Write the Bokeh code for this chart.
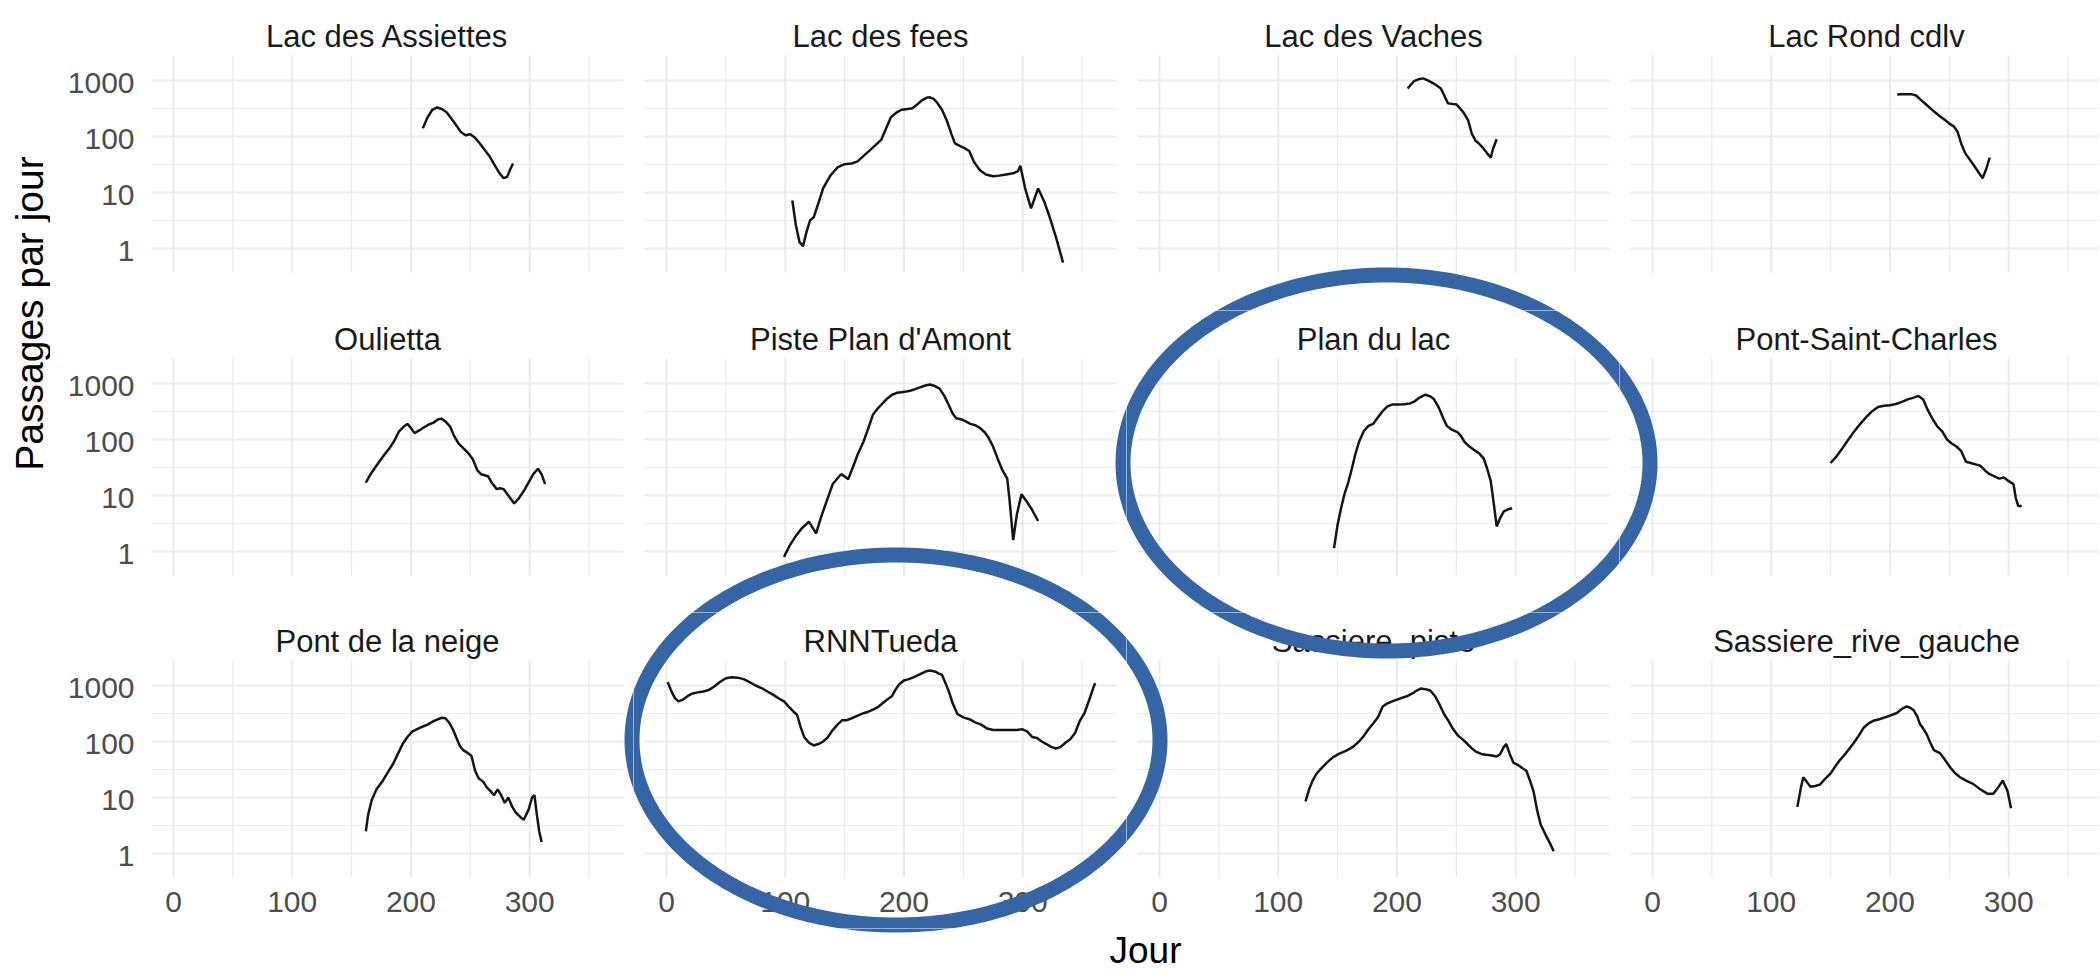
import math
from bokeh.plotting import figure
from bokeh.models import Range1d, LogScale, Label, PolyAnnotation
from bokeh.core.properties import value
from bokeh.layouts import row, column
from bokeh.embed import file_html
from bokeh.resources import INLINE

# ---------------- data ----------------
stations = ["Lac des Assiettes", "Lac des fees", "Lac des Vaches", "Lac Rond cdlv",
            "Oulietta", "Piste Plan d'Amont", "Plan du lac", "Pont-Saint-Charles",
            "Pont de la neige", "RNNTueda", "Sassiere_piste", "Sassiere_rive_gauche"]

x_ticks = [0, 100, 200, 300]
x_tick_labels = ["0", "100", "200", "300"]
x_minor = [50, 150, 250, 350]
y_ticks = [1, 10, 100, 1000]
y_tick_labels = ["1", "10", "100", "1000"]
y_minor = [10 ** 0.5, 10 ** 1.5, 10 ** 2.5]

assiettes_day = [210, 214, 218, 222, 226, 230, 234, 238, 242, 246, 250, 254, 258, 262, 266, 270, 274, 278, 281, 284, 286]
assiettes_val = [140, 220, 300, 330, 310, 270, 210, 160, 120, 105, 110, 95, 75, 58, 45, 32, 23, 18, 19, 27, 33]

fees_day = [106, 109, 112, 115, 118, 121, 124, 128, 132, 138, 144, 150, 156, 161, 166, 171, 176, 181, 185, 189,
            194, 198, 203, 207, 211, 215, 219, 222, 225, 228, 232, 236, 240, 243, 247, 251, 255, 259, 264, 269,
            275, 280, 286, 292, 296, 298, 302, 307, 313, 318, 323, 328, 334]
fees_val = [7.2, 2.6, 1.3, 1.1, 2.0, 3.2, 3.6, 6.5, 12, 20, 28, 32, 33, 36, 45, 56, 70, 88, 140, 220,
            270, 300, 310, 318, 370, 440, 490, 500, 470, 400, 300, 195, 110, 75, 68, 62, 55, 35, 25, 21,
            19.5, 20, 21, 22, 24, 30, 12, 5.2, 11.8, 7, 3.5, 1.6, 0.56]

vaches_day = [209, 214, 218, 222, 226, 231, 237, 243, 247, 250, 253, 256, 260, 263, 266, 269, 272, 276, 279, 281, 284]
vaches_val = [720, 960, 1050, 1090, 1000, 880, 720, 390, 380, 375, 320, 270, 193, 113, 85, 75, 64, 50, 42, 61, 89]

rond_day = [206, 210, 214, 218, 222, 226, 230, 234, 238, 242, 246, 250, 254, 257, 260, 263, 266, 270, 274, 278, 281, 284]
rond_val = [560, 570, 565, 570, 540, 450, 380, 320, 270, 230, 200, 170, 150, 120, 75, 52, 42, 32, 24, 18, 26, 42]

oulietta_day = [162, 166, 170, 174, 178, 182, 186, 190, 194, 197, 200, 203, 207, 211, 215, 219, 223, 226, 229, 233,
                236, 240, 244, 248, 252, 256, 259, 262, 265, 268, 272, 275, 278, 282, 287, 291, 295, 299, 303, 307,
                310, 313]
oulietta_val = [17, 24, 32, 42, 55, 70, 95, 140, 170, 190, 160, 130, 145, 165, 185, 200, 230, 235, 210, 170,
                120, 85, 70, 58, 45, 28, 24, 23, 22, 17, 13, 13.5, 13, 10, 7.2, 9, 12, 17, 24, 30,
                24, 16]

amont_day = [99, 104, 109, 114, 120, 126, 130, 135, 140, 147, 150, 153, 157, 161, 166, 170, 174, 178, 182, 186,
             190, 194, 198, 202, 206, 210, 214, 218, 222, 226, 230, 234, 238, 241, 244, 248, 252, 256, 260, 264,
             268, 271, 275, 279, 283, 287, 289, 292, 295, 299, 303, 308, 313]
amont_val = [0.8, 1.3, 1.9, 2.6, 3.4, 2.1, 4, 8, 16, 24, 22, 19.5, 32, 54, 92, 160, 280, 360, 440, 540,
             630, 680, 700, 720, 750, 800, 860, 920, 960, 900, 810, 600, 400, 290, 240, 230, 210, 190, 180, 160,
             135, 110, 75, 45, 28, 20, 8, 1.6, 4.5, 10.5, 8, 5.5, 3.5]

plan_lac_day = [147, 150, 153, 156, 159, 162, 165, 168, 172, 176, 180, 184, 188, 192, 196, 201, 206, 211, 215, 219,
                224, 228, 231, 235, 239, 242, 246, 251, 254, 257, 261, 265, 269, 273, 276, 279, 282, 284, 287, 290,
                294, 297]
plan_lac_val = [1.15, 3, 6, 11, 17, 30, 55, 90, 140, 175, 190, 250, 320, 390, 420, 420, 425, 440, 480, 560,
                630, 590, 530, 380, 240, 175, 150, 135, 115, 90, 75, 65, 57, 46, 30, 18, 6, 2.8, 4, 5.2,
                5.7, 5.9]

psc_day = [150, 155, 160, 165, 170, 175, 180, 185, 190, 195, 200, 205, 210, 215, 220, 224, 228, 232, 236, 240,
           244, 248, 252, 256, 260, 264, 268, 272, 276, 280, 284, 288, 292, 296, 300, 304, 306, 308, 311]
psc_val = [38, 50, 70, 100, 140, 190, 250, 320, 380, 400, 410, 430, 470, 520, 560, 600, 520, 330, 230, 170,
           140, 100, 85, 75, 62, 40, 38, 36, 34, 28, 24, 22, 20, 21, 18, 16, 9, 6.5, 6.5]

neige_day = [162, 164, 167, 171, 176, 180, 185, 189, 193, 197, 201, 206, 210, 214, 218, 222, 226, 229, 232, 235,
             238, 241, 244, 248, 251, 254, 257, 261, 264, 267, 270, 273, 276, 279, 282, 285, 288, 292, 295, 299,
             302, 304, 306, 308, 310]
neige_val = [2.5, 5, 9, 14, 19.5, 27, 40, 60, 90, 120, 150, 170, 185, 200, 225, 245, 265, 260, 220, 170,
             120, 85, 70, 62, 55, 30, 22, 19, 15, 13, 11, 14, 11, 8, 10, 7, 5.5, 4.5, 4, 6,
             10, 11, 5, 2.5, 1.6]

tueda_day = [1, 4, 7, 10, 14, 18, 22, 27, 31, 35, 40, 45, 50, 55, 60, 65, 70, 75, 80, 85,
             90, 95, 99, 103, 107, 110, 113, 116, 120, 124, 128, 132, 136, 140, 144, 148, 152, 156, 161, 166,
             170, 174, 178, 182, 186, 190, 193, 196, 200, 204, 208, 211, 215, 219, 222, 226, 229, 232, 235, 238,
             241, 245, 250, 255, 260, 265, 270, 275, 280, 285, 290, 295, 300, 304, 308, 312, 316, 320, 324, 328,
             332, 336, 340, 344, 348, 352, 356, 359, 361]
tueda_val = [1150, 800, 600, 520, 560, 650, 720, 760, 780, 820, 950, 1150, 1350, 1400, 1380, 1300, 1150, 1000, 900, 780,
             680, 580, 520, 420, 340, 300, 180, 120, 95, 85, 90, 100, 120, 160, 200, 240, 240, 260, 290, 320,
             340, 370, 410, 480, 560, 650, 850, 1050, 1230, 1300, 1400, 1500, 1650, 1800, 1850, 1780, 1650, 1550, 1100, 760,
             480, 310, 270, 250, 220, 200, 170, 160, 160, 160, 160, 160, 165, 150, 120, 115, 100, 90, 80, 75,
             80, 95, 110, 140, 230, 320, 550, 850, 1100]

spiste_day = [123, 126, 129, 132, 135, 140, 146, 151, 157, 163, 168, 172, 176, 180, 184, 188, 192, 196, 200, 205,
              209, 213, 217, 220, 224, 228, 232, 236, 240, 243, 247, 251, 255, 259, 263, 267, 271, 275, 280, 284,
              287, 290, 292, 295, 298, 302, 306, 309, 312, 315, 318, 321, 325, 329, 332]
spiste_val = [8.5, 14, 20, 26, 31, 40, 52, 60, 68, 80, 100, 125, 165, 210, 270, 420, 480, 520, 560, 610,
              650, 720, 820, 880, 860, 815, 650, 450, 300, 240, 170, 130, 110, 92, 75, 65, 60, 58, 56, 54,
              60, 80, 90, 60, 42, 38, 33, 30, 20, 13, 6, 3.3, 2.2, 1.5, 1.1]

srg_day = [122, 125, 127, 130, 133, 137, 141, 145, 150, 154, 158, 163, 169, 173, 178, 182, 186, 191, 197, 202,
           206, 210, 214, 217, 220, 223, 225, 228, 231, 234, 237, 242, 246, 251, 255, 259, 264, 270, 276, 282,
           287, 291, 295, 299, 302]
srg_val = [6.8, 15, 23, 19, 15.5, 16, 17, 21, 27, 36, 47, 62, 91, 120, 178, 210, 234, 250, 275, 300,
           325, 380, 425, 400, 360, 280, 210, 170, 134, 95, 70, 62, 48, 34, 27, 23, 20, 17.5, 14, 11.7,
           11.7, 15, 20, 13, 6.4]

series = [(assiettes_day, assiettes_val), (fees_day, fees_val), (vaches_day, vaches_val), (rond_day, rond_val),
          (oulietta_day, oulietta_val), (amont_day, amont_val), (plan_lac_day, plan_lac_val), (psc_day, psc_val),
          (neige_day, neige_val), (tueda_day, tueda_val), (spiste_day, spiste_val), (srg_day, srg_val)]

# ---------------- layout / style ----------------
FONT = "Liberation Sans"
GRID = "#EBEBEB"
LINE = "#151515"
BLUE = "#3565A5"
LEFT_W = 50
COL_W = [583, 493, 493, 479]          # canvas widths of the 4 panel columns
COL_PAD = [101, 11, 11, 11]           # distance canvas-left -> panel-left
ROW_H = [310, 302, 316]               # canvas heights of the 3 panel rows
ROW_PAD = [55, 48, 48]                # distance canvas-top -> panel-top
JOUR_H = 44
PANEL_W = 472
PANEL_H = 217
X_START, X_END = -18.5, 379.0
PPD = PANEL_W / (X_END - X_START)      # pixels per day
LOG_START, LOG_END = -0.4286, 3.446
PPDEC = PANEL_H / (LOG_END - LOG_START)  # pixels per decade
Y_START, Y_END = 10 ** LOG_START, 10 ** LOG_END

# highlight ellipses (page pixel geometry): centre x, centre y, semi-axis x, semi-axis y
ELLIPSES = [(1386, 462.5, 263.5, 188), (895.5, 739.5, 264, 185)]
TS = [2 * math.pi * i / 240 for i in range(240)]


def add_ellipses(p, canvas_left, canvas_bottom):
    for cx, cy, a, b in ELLIPSES:
        xs = [cx + a * math.cos(t) - canvas_left for t in TS]
        ys = [canvas_bottom - (cy + b * math.sin(t)) for t in TS]
        p.add_layout(PolyAnnotation(xs=xs, ys=ys, xs_units="screen", ys_units="screen",
                                    fill_color=None, fill_alpha=0, line_color=BLUE, line_alpha=1.0,
                                    line_width=15, line_join="round"))


def make_panel(r, c, name, days, vals):
    w, h = COL_W[c], ROW_H[r]
    x0 = X_START - COL_PAD[c] / PPD
    y_lo = LOG_START - (h - ROW_PAD[r] - PANEL_H) / PPDEC
    y_hi = LOG_END + ROW_PAD[r] / PPDEC
    p = figure(width=w, height=h,
               x_range=Range1d(x0, x0 + w / PPD),
               y_range=Range1d(10 ** y_lo, 10 ** y_hi),
               x_axis_type=None, y_axis_type=None,
               output_backend="svg", toolbar_location=None, tools="",
               min_border=0, outline_line_color=None,
               background_fill_color="white", border_fill_color="white")
    p.y_scale = LogScale()
    # grid (minor then major)
    p.segment(x0=x_minor, x1=x_minor, y0=[Y_START] * len(x_minor), y1=[Y_END] * len(x_minor),
              line_color=GRID, line_width=1.2)
    p.segment(x0=[X_START] * len(y_minor), x1=[X_END] * len(y_minor), y0=y_minor, y1=y_minor,
              line_color=GRID, line_width=1.2)
    p.segment(x0=x_ticks, x1=x_ticks, y0=[Y_START] * len(x_ticks), y1=[Y_END] * len(x_ticks),
              line_color=GRID, line_width=2)
    p.segment(x0=[X_START] * len(y_ticks), x1=[X_END] * len(y_ticks), y0=y_ticks, y1=y_ticks,
              line_color=GRID, line_width=2)
    # tick labels
    if c == 0:
        p.text(x=[X_START] * len(y_ticks), y=y_ticks, text=y_tick_labels, x_offset=-17, y_offset=3,
               text_align="right", text_baseline="middle", text_font=value(FONT),
               text_font_size="30px", text_color="#4D4D4D")
    if r == 2:
        p.text(x=x_ticks, y=[Y_START] * len(x_ticks), text=x_tick_labels, y_offset=14,
               text_align="center", text_baseline="top", text_font=value(FONT),
               text_font_size="30px", text_color="#4D4D4D")
    # strip title
    p.text(x=[X_START + (PANEL_W / 2) / PPD], y=[Y_END], text=[name], y_offset=-19,
           text_align="center", text_baseline="alphabetic", text_font=value(FONT),
           text_font_size="31px", text_color="#1A1A1A")
    # data
    p.line(days, vals, line_color=LINE, line_width=2.5)
    add_ellipses(p, LEFT_W + sum(COL_W[:c]), sum(ROW_H[:r]) + h)
    return p


rows = []
for r in range(3):
    figs = []
    for c in range(4):
        i = r * 4 + c
        figs.append(make_panel(r, c, stations[i], series[i][0], series[i][1]))
    rows.append(row(*figs))

grid_h = sum(ROW_H)
left_fig = figure(width=LEFT_W, height=grid_h, x_range=Range1d(0, 1), y_range=Range1d(0, 1),
                  x_axis_type=None, y_axis_type=None, output_backend="svg", toolbar_location=None, tools="",
                  min_border=0, outline_line_color=None, border_fill_color="white", background_fill_color="white")
left_fig.add_layout(Label(x=28.5, y=grid_h - 313, x_units="screen", y_units="screen",
                          text="Passages par jour", angle=math.pi / 2, text_align="center",
                          text_baseline="middle", text_font=FONT, text_font_size="39px", text_color="#000000"))
add_ellipses(left_fig, 0, grid_h)

total_w = LEFT_W + sum(COL_W)
jour_fig = figure(width=total_w, height=JOUR_H, x_range=Range1d(0, 1), y_range=Range1d(0, 1),
                  x_axis_type=None, y_axis_type=None, output_backend="svg", toolbar_location=None, tools="",
                  min_border=0, outline_line_color=None, border_fill_color="white", background_fill_color="white")
jour_fig.add_layout(Label(x=1145, y=JOUR_H / 2, x_units="screen", y_units="screen", text="Jour",
                          text_align="center", text_baseline="middle", text_font=FONT,
                          text_font_size="37px", text_color="#000000"))
add_ellipses(jour_fig, 0, grid_h + JOUR_H)

layout = column(row(left_fig, column(*rows)), jour_fig)
open("out.html", "w").write(file_html(layout, INLINE, title="Passages par jour"))
